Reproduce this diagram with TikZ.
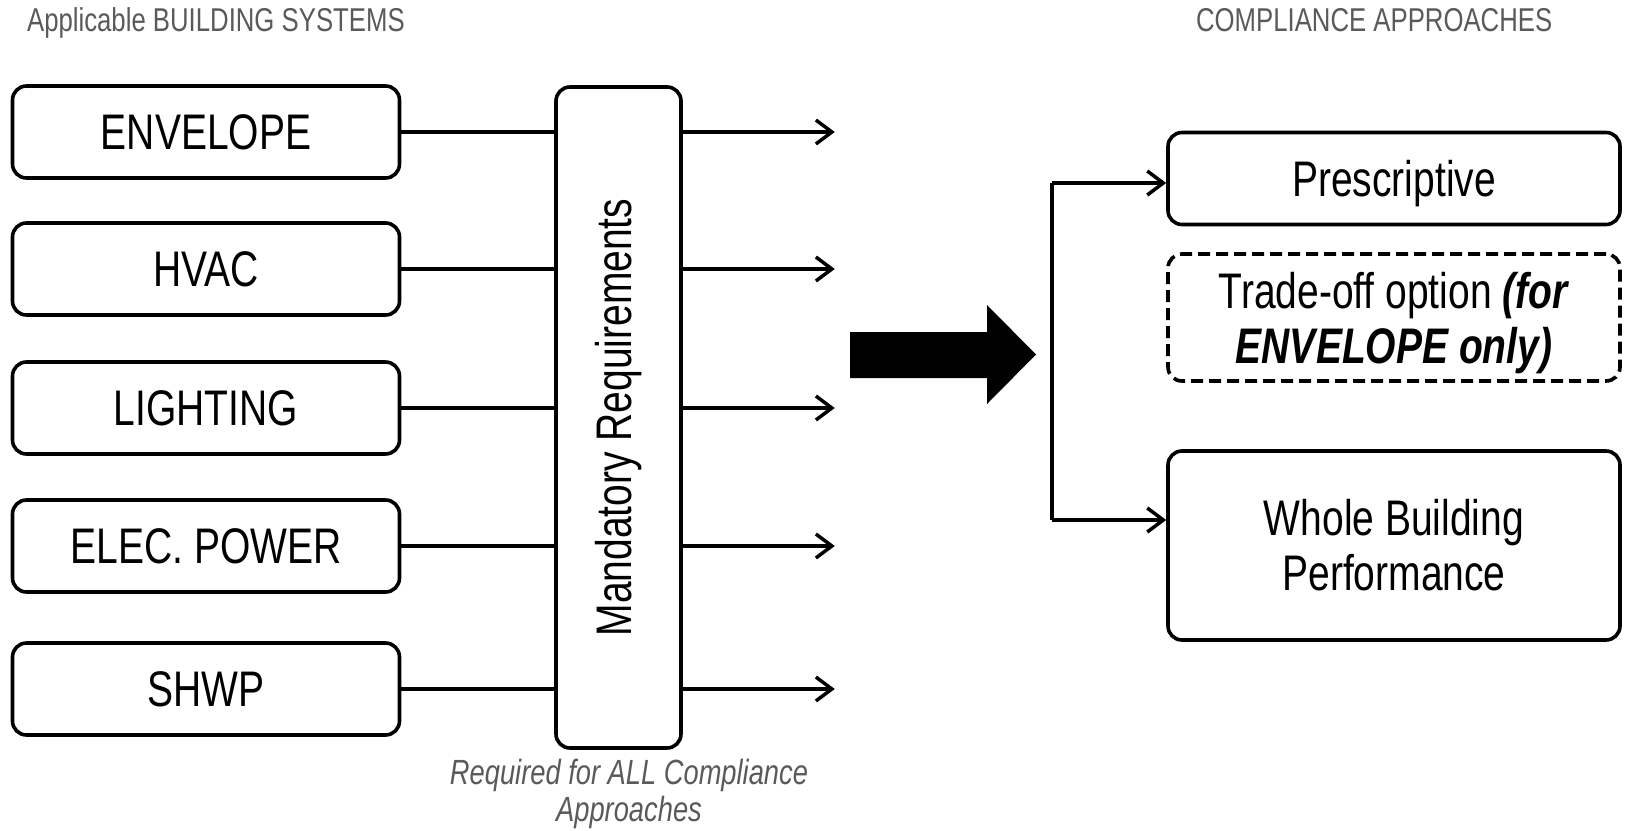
\documentclass[tikz,border=0pt]{standalone}
\usepackage{fontspec}
\setmainfont{Liberation Sans}[FakeStretch=0.78]
\usepackage{tikz}
\usetikzlibrary{arrows.meta,positioning,calc}
\definecolor{capgray}{RGB}{90,90,90}

\begin{document}
\begin{tikzpicture}[x=1pt,y=-1pt,line width=3.5pt,
      sb/.style={draw,rounded corners=14pt,line width=3.6pt,
                 minimum width=387pt,minimum height=92pt,
                 font=\fontsize{50}{55}\selectfont,align=center},
      ab/.style={sb,minimum width=452pt},
      a/.style={-{Straight Barb[length=16pt,width=24pt]}},
      t/.style={font=\fontsize{33}{37}\selectfont,text=capgray}]
  \useasboundingbox (0,0) rectangle (1625,830);
  \node[t,anchor=west] (sys) at (22,23) {Applicable BUILDING SYSTEMS};
  \node[t,anchor=west] (app) at (1191,20) {COMPLIANCE APPROACHES};
  \node[sb] (env) at (206,132) {ENVELOPE};
  \node[sb] (hvac) at (206,269) {HVAC};
  \node[sb] (lit) at (206,408) {LIGHTING};
  \node[sb] (pow) at (206,546) {ELEC. POWER};
  \node[sb] (shwp) at (206,689) {SHWP};
  \node[sb,rotate=90,minimum width=661pt,minimum height=125pt] (mand) at (618.5,417.5)
    {Mandatory Requirements};
  \node[t,font=\fontsize{35}{37}\selectfont\itshape,align=center] (req) at (629,794)
    {Required for ALL Compliance\\Approaches};
  \foreach \s in {env,hvac,lit,pow,shwp} {
    \draw (\s.east) -- (\s.east -| mand.north);
    \draw[a] (\s.east -| mand.south) -- ++(152,0);
  }
  \fill (850,332) -- (987,332) -- (987,305) -- (1036,354.5) -- (987,404)
    -- (987,378) -- (850,378) -- cycle;
  \node[ab,text depth=0pt] (pre) at (1394,178.5) {Prescriptive};
  \node[ab,text depth=0pt,dashed,dash pattern=on 12pt off 6pt,minimum height=127pt] (trd)
    at (1394,317.5)
    {Trade-off option \textbf{\textit{(for}}\\\textbf{\textit{ENVELOPE only)}}};
  \node[ab,minimum height=189pt] (wb) at (1394,545.5) {Whole Building\\Performance};
  \coordinate (ft) at (1052,183);
  \coordinate (fb) at (1052,520);
  \draw (ft) -- (fb);
  \draw[a] (ft) -- (ft -| pre.west);
  \draw[a] (fb) -- (fb -| wb.west);
\end{tikzpicture}
\end{document}
